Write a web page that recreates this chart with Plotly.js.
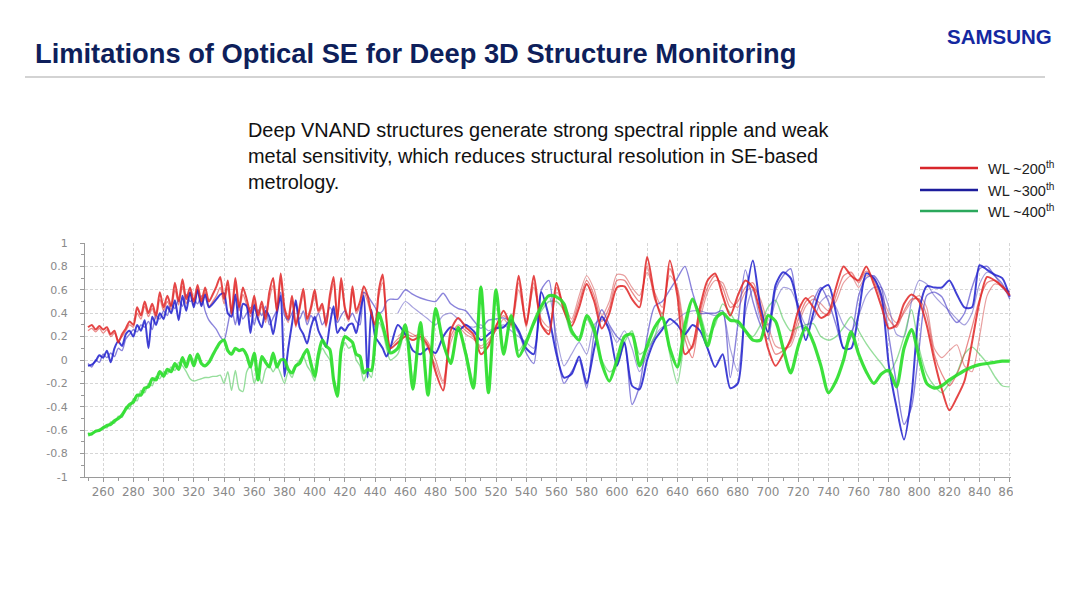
<!DOCTYPE html>
<html>
<head>
<meta charset="utf-8">
<script src="https://cdn.plot.ly/plotly-3.0.1.min.js"></script>
<style>
  html, body { margin: 0; padding: 0; background: #fff; }
  #plot { width: 1080px; height: 608px; }
</style>
</head>
<body>
<div id="plot"></div>
<script>
"use strict";

// Sampling grid: dense where the ripple is fast,
// coarser past 450 nm where the fringes widen.
const wavelengthFine = [
  250, 252.5, 255, 257.5, 260, 262.5, 265, 267.5, 270, 272.5,
  275, 277.5, 280, 282.5, 285, 287.5, 290, 292.5, 295, 297.5,
  300, 302.5, 305, 307.5, 310, 312.5, 315, 317.5, 320, 322.5,
  325, 327.5, 330, 332.5, 335, 337.5, 340, 342.5, 345, 347.5,
  350, 352.5, 355, 357.5, 360, 362.5, 365, 367.5, 370, 372.5,
  375, 377.5, 380, 382.5, 385, 387.5, 390, 392.5, 395, 397.5,
  400, 402.5, 405, 407.5, 410, 412.5, 415, 417.5, 420, 422.5,
  425, 427.5, 430, 432.5, 435, 437.5, 440, 442.5, 445, 447.5,
  450
];
const wavelengthCoarse = [
  455, 460, 465, 470, 475, 480, 485, 490, 495, 500,
  505, 510, 515, 520, 525, 530, 535, 540, 545, 550,
  555, 560, 565, 570, 575, 580, 585, 590, 595, 600,
  605, 610, 615, 620, 625, 630, 635, 640, 645, 650,
  655, 660, 665, 670, 675, 680, 685, 690, 695, 700,
  705, 710, 715, 720, 725, 730, 735, 740, 745, 750,
  755, 760, 765, 770, 775, 780, 785, 790, 795, 800,
  805, 810, 815, 820, 825, 830, 835, 840, 845, 850,
  855, 860
];
const wavelength = wavelengthFine.concat(wavelengthCoarse);

// ── WL ~200th (red) ──
const red1 = [
  0.28, 0.30, 0.26, 0.29, 0.26, 0.28, 0.22, 0.25, 0.15, 0.22,
  0.27, 0.33, 0.30, 0.45, 0.38, 0.50, 0.40, 0.48, 0.38, 0.58,
  0.45, 0.55, 0.46, 0.66, 0.50, 0.69, 0.52, 0.62, 0.50, 0.64,
  0.50, 0.62, 0.50, 0.56, 0.63, 0.71, 0.52, 0.68, 0.40, 0.70,
  0.45, 0.62, 0.52, 0.40, 0.55, 0.38, 0.50, 0.35, 0.58, 0.70,
  0.42, 0.74, 0.45, 0.35, 0.55, 0.30, 0.45, 0.61, 0.35, 0.45,
  0.60, 0.42, 0.48, 0.30, 0.55, 0.71, 0.35, 0.70, 0.45, 0.35,
  0.63, 0.42, 0.50, 0.63, 0.55, 0.40, 0.30, 0.60, 0.73, 0.35,
  0.10,
  0.15, 0.20, 0.17, 0.20, 0.12, -0.10, -0.26, 0.25, 0.36, 0.28,
  0.22, 0.05, 0.12, 0.28, 0.42, 0.30, 0.72, 0.30, 0.72, 0.30,
  0.22, 0.66, 0.42, 0.29, 0.45, 0.65, 0.50, 0.27, 0.40, 0.62,
  0.63, 0.52, 0.45, 0.88, 0.55, 0.36, 0.85, 0.55, 0.05, 0.12,
  0.45, 0.68, 0.74, 0.55, 0.38, 0.55, 0.68, 0.62, 0.40, 0.10,
  -0.05, 0.05, 0.18, 0.42, 0.53, 0.45, 0.36, 0.40, 0.62, 0.80,
  0.72, 0.68, 0.80, 0.65, 0.46, 0.27, 0.30, 0.48, 0.56, 0.50,
  0.30, 0.00, -0.25, -0.43, -0.32, -0.18, 0.15, 0.50, 0.71, 0.68,
  0.63, 0.55
];
const red2 = [
  0.25, 0.27, 0.24, 0.27, 0.23, 0.26, 0.20, 0.23, 0.17, 0.20,
  0.25, 0.30, 0.28, 0.40, 0.35, 0.46, 0.37, 0.44, 0.35, 0.52,
  0.42, 0.50, 0.43, 0.60, 0.47, 0.63, 0.48, 0.58, 0.47, 0.60,
  0.47, 0.58, 0.46, 0.50, 0.55, 0.62, 0.48, 0.62, 0.38, 0.64,
  0.42, 0.56, 0.47, 0.37, 0.50, 0.35, 0.46, 0.32, 0.52, 0.64,
  0.40, 0.68, 0.42, 0.32, 0.50, 0.28, 0.42, 0.56, 0.33, 0.42,
  0.55, 0.40, 0.45, 0.28, 0.50, 0.65, 0.33, 0.64, 0.42, 0.33,
  0.58, 0.40, 0.46, 0.58, 0.50, 0.38, 0.28, 0.55, 0.66, 0.32,
  0.12,
  0.18, 0.22, 0.20, 0.22, 0.15, 0.00, -0.18, 0.20, 0.30, 0.25,
  0.20, 0.10, 0.15, 0.30, 0.38, 0.32, 0.66, 0.28, 0.66, 0.30,
  0.25, 0.62, 0.45, 0.32, 0.50, 0.68, 0.55, 0.33, 0.45, 0.68,
  0.68, 0.58, 0.50, 0.80, 0.52, 0.40, 0.78, 0.60, 0.18, 0.02,
  0.40, 0.62, 0.72, 0.62, 0.45, 0.50, 0.62, 0.66, 0.48, 0.22,
  0.05, 0.08, 0.15, 0.35, 0.50, 0.55, 0.42, 0.38, 0.55, 0.72,
  0.75, 0.66, 0.76, 0.68, 0.52, 0.35, 0.28, 0.42, 0.52, 0.52,
  0.38, 0.05, -0.12, -0.22, -0.12, 0.05, 0.28, 0.52, 0.66, 0.68,
  0.62, 0.58
];
const red3 = [
  0.20, 0.25, 0.22, 0.18, 0.10, -0.05, -0.20, 0.15, 0.28, 0.22,
  0.18, 0.12, 0.18, 0.25, 0.35, 0.28, 0.60, 0.32, 0.62, 0.35,
  0.28, 0.58, 0.48, 0.35, 0.55, 0.72, 0.60, 0.38, 0.50, 0.73,
  0.72, 0.62, 0.55, 0.75, 0.58, 0.45, 0.72, 0.62, 0.25, 0.10,
  0.35, 0.58, 0.68, 0.66, 0.50, 0.45, 0.58, 0.62, 0.52, 0.30,
  0.12, 0.10, 0.12, 0.30, 0.46, 0.52, 0.48, 0.42, 0.50, 0.66,
  0.72, 0.62, 0.72, 0.70, 0.56, 0.40, 0.32, 0.40, 0.50, 0.55,
  0.45, 0.10, 0.02, 0.08, 0.13, -0.05, -0.10, 0.20, 0.55, 0.65,
  0.63, 0.58
];

// ── WL ~300th (blue) ──
const blue1 = [
  -0.05, -0.04, -0.01, 0.04, 0.02, 0.08, -0.02, 0.10, 0.16, 0.12,
  0.22, 0.25, 0.20, 0.30, 0.25, 0.34, 0.10, 0.37, 0.30, 0.40,
  0.35, 0.46, 0.40, 0.51, 0.34, 0.55, 0.42, 0.58, 0.45, 0.60,
  0.46, 0.56, 0.45, 0.48, 0.52, 0.56, 0.57, 0.40, 0.37, 0.56,
  0.30, 0.48, 0.46, 0.23, 0.47, 0.35, 0.28, 0.42, 0.37, 0.22,
  0.40, 0.55, -0.14, 0.10, 0.31, 0.51, 0.28, 0.22, 0.14, 0.28,
  0.37, 0.25, 0.18, 0.11, 0.30, 0.46, 0.23, 0.28, 0.25, 0.30,
  0.31, 0.23, 0.40, 0.55, -0.15, 0.43, 0.20, 0.15, 0.10, 0.03,
  0.10,
  0.30, 0.22, 0.08, 0.05, 0.10, 0.06, 0.20, 0.28, 0.25, 0.30,
  0.25, 0.17, 0.22, 0.27, 0.28, 0.34, 0.25, 0.10, 0.05, 0.58,
  0.37, 0.05, -0.15, -0.12, 0.03, -0.20, 0.10, 0.37, 0.25, -0.05,
  0.15, -0.22, -0.25, 0.00, 0.17, 0.26, 0.35, 0.30, 0.22, 0.30,
  0.25, 0.10, -0.06, 0.05, -0.24, -0.20, 0.50, 0.85, 0.45, 0.24,
  0.64, 0.75, 0.70, 0.45, 0.17, 0.40, 0.60, 0.64, 0.40, 0.10,
  0.10, 0.40, 0.74, 0.70, 0.55, -0.05, -0.40, -0.68, -0.30, 0.42,
  0.63, 0.62, 0.62, 0.68, 0.56, 0.45, 0.45, 0.81, 0.77, 0.73,
  0.70, 0.54
];
const blue2 = [
  -0.03, -0.06, 0.00, -0.02, 0.05, 0.02, 0.06, 0.03, 0.10, 0.08,
  0.18, 0.22, 0.26, 0.24, 0.30, 0.28, 0.33, 0.26, 0.38, 0.35,
  0.42, 0.38, 0.48, 0.44, 0.52, 0.46, 0.56, 0.50, 0.52, 0.48,
  0.55, 0.42, 0.34, 0.30, 0.26, 0.20, 0.17, 0.30, 0.45, 0.30,
  0.48, 0.35, 0.40, 0.45, 0.30, 0.43, 0.38, 0.46, 0.30, 0.36,
  0.43, 0.58, 0.38, 0.34, 0.40, 0.48, 0.35, 0.42, 0.30, 0.38,
  0.34, 0.40, 0.30, 0.36, 0.45, 0.40, 0.32, 0.38, 0.42, 0.35,
  0.40, 0.33, 0.30, 0.58, 0.55, 0.50, 0.45, 0.40, 0.42, 0.50,
  0.52,
  0.52, 0.60, 0.56, 0.53, 0.51, 0.50, 0.57, 0.48, 0.44, 0.42,
  0.34, 0.27, 0.34, 0.35, 0.36, 0.32, 0.23, 0.06, -0.03, 0.60,
  0.68, 0.10, -0.20, -0.10, 0.00, -0.24, 0.23, 0.43, 0.30, 0.20,
  0.14, -0.38, -0.22, 0.20, 0.46, 0.50, 0.60, 0.70, 0.80, 0.58,
  0.40, 0.40, 0.40, 0.42, -0.15, 0.30, 0.77, 0.50, 0.30, 0.18,
  0.60, 0.72, 0.78, 0.40, 0.25, 0.50, 0.62, 0.50, 0.30, 0.10,
  0.20, 0.55, 0.70, 0.72, 0.62, 0.20, -0.20, -0.55, -0.40, 0.10,
  0.55, 0.58, 0.54, 0.40, 0.32, 0.40, 0.62, 0.78, 0.80, 0.72,
  0.65, 0.52
];
const blue3 = [
  0.40, 0.50, 0.45, 0.40, 0.35, 0.30, 0.38, 0.40, 0.35, 0.30,
  0.28, 0.30, 0.25, 0.28, 0.30, 0.25, 0.20, 0.15, 0.10, 0.45,
  0.55, 0.20, -0.05, 0.05, 0.15, 0.05, 0.30, 0.35, 0.28, 0.15,
  0.25, 0.10, -0.10, 0.05, 0.20, 0.28, 0.30, 0.35, 0.40, 0.42,
  0.42, 0.40, 0.38, 0.40, 0.10, -0.10, 0.40, 0.60, 0.35, 0.30,
  0.50, 0.62, 0.60, 0.45, 0.30, 0.35, 0.50, 0.55, 0.45, 0.30,
  0.25, 0.38, 0.55, 0.62, 0.62, 0.45, 0.22, 0.20, 0.50, 0.68,
  0.65, 0.55, 0.48, 0.42, 0.35, 0.30, 0.40, 0.65, 0.75, 0.72,
  0.62, 0.55
];

// ── WL ~400th (green) ──
const green1 = [
  -0.64, -0.63, -0.61, -0.60, -0.58, -0.56, -0.55, -0.52, -0.50, -0.47,
  -0.42, -0.38, -0.36, -0.30, -0.30, -0.24, -0.23, -0.16, -0.17, -0.10,
  -0.14, -0.08, -0.10, -0.03, -0.08, 0.02, -0.06, 0.04, -0.05, 0.05,
  -0.03, -0.05, -0.02, 0.04, 0.10, 0.15, 0.17, 0.08, 0.05, 0.10,
  0.08, 0.09, 0.04, -0.06, 0.06, -0.17, 0.03, -0.02, -0.06, 0.06,
  -0.06, 0.00, 0.00, -0.08, -0.11, -0.05, -0.03, 0.04, 0.09, -0.03,
  -0.14, 0.05, 0.17, 0.12, 0.09, -0.17, -0.31, 0.09, 0.20, 0.18,
  0.15, 0.05, 0.03, -0.11, -0.08, -0.09, 0.17, 0.40, 0.30, 0.17,
  0.06,
  0.10, 0.30, -0.25, 0.32, -0.30, 0.44, 0.15, -0.03, 0.28, 0.05,
  -0.24, 0.62, -0.28, 0.60, 0.05, 0.38, 0.03, 0.15, 0.32, 0.46,
  0.55, 0.54, 0.48, 0.25, 0.17, 0.38, 0.26, -0.03, -0.18, 0.00,
  0.20, 0.22, -0.05, 0.12, 0.28, 0.36, 0.10, -0.06, 0.30, 0.52,
  0.35, 0.12, 0.35, 0.40, 0.34, 0.33, 0.25, 0.17, 0.17, 0.38,
  0.33, 0.10, -0.11, 0.12, 0.28, 0.15, -0.05, -0.28, -0.18, 0.00,
  0.24, 0.05, -0.10, -0.20, -0.12, -0.09, -0.23, 0.10, 0.26, 0.02,
  -0.20, -0.24, -0.22, -0.17, -0.13, -0.09, -0.06, -0.04, -0.03, -0.02,
  -0.01, -0.01
];
const green2 = [
  -0.62, -0.64, -0.60, -0.61, -0.57, -0.58, -0.53, -0.54, -0.48, -0.49,
  -0.40, -0.42, -0.33, -0.35, -0.26, -0.28, -0.20, -0.22, -0.14, -0.16,
  -0.10, -0.12, -0.06, -0.09, -0.02, -0.05, -0.10, -0.16, -0.18, -0.17,
  -0.16, -0.15, -0.15, -0.14, -0.14, -0.13, -0.20, -0.10, -0.26, -0.09,
  -0.25, -0.27, -0.10, -0.05, -0.20, -0.12, -0.20, -0.08, -0.05, -0.10,
  -0.05, -0.12, -0.20, -0.10, -0.15, -0.05, 0.00, 0.03, -0.05, -0.10,
  -0.18, 0.00, 0.10, 0.05, 0.00, -0.15, -0.25, 0.05, 0.15, 0.10,
  0.12, 0.00, -0.05, -0.18, -0.10, -0.15, 0.10, 0.32, 0.25, 0.10,
  0.00,
  0.05, 0.25, -0.15, 0.28, -0.25, 0.40, 0.12, 0.00, 0.25, 0.08,
  -0.18, 0.64, -0.22, 0.55, 0.10, 0.35, 0.08, 0.18, 0.30, 0.42,
  0.50, 0.50, 0.42, 0.22, 0.20, 0.35, 0.22, 0.00, -0.10, -0.05,
  0.15, 0.25, 0.05, 0.10, 0.20, 0.40, 0.05, -0.20, 0.20, 0.50,
  0.40, 0.20, 0.30, 0.48, 0.40, 0.30, 0.25, 0.20, 0.30, 0.45,
  0.51, 0.35, 0.25, 0.28, 0.30, 0.31, 0.20, 0.17, 0.20, 0.28,
  0.37, 0.25, 0.14, 0.05, -0.03, -0.11, 0.00, 0.20, 0.43, 0.10,
  -0.12, -0.22, -0.28, -0.20, -0.11, 0.05, 0.11, 0.05, -0.03, -0.14,
  -0.22, -0.23
];

const xTicks = [260, 280, 300, 320, 340, 360, 380, 400, 420, 440, 460, 480,
  500, 520, 540, 560, 580, 600, 620, 640, 660, 680, 700, 720, 740, 760,
  780, 800, 820, 840, 860];
const yTicks = [-1, -0.8, -0.6, -0.4, -0.2, 0, 0.2, 0.4, 0.6, 0.8, 1];
const yTickText = ["-1", "-0.8", "-0.6", "-0.4", "-0.2", "0", "0.2", "0.4", "0.6", "0.8", "1"];

const legendItems = [
  { label: "WL ~200<sup>th</sup>", color: "#d8262b" },
  { label: "WL ~300<sup>th</sup>", color: "#1c1c9c" },
  { label: "WL ~400<sup>th</sup>", color: "#2ba85c" },
];

// page pixels -> paper fractions (margins are zero, so paper == page)
const W = 1080, H = 608;
const px = x => x / W;
const py = y => 1 - y / H;

function line(x, y, color, width, name) {
  return {
    type: "scatter", mode: "lines", x: x, y: y, name: name,
    line: { color: color, width: width, shape: "spline", smoothing: 0.7 },
    hoverinfo: "skip", showlegend: false,
  };
}

// thin companions first so the strong curves sit on top
const traces = [
  line(wavelengthCoarse, red3, "rgba(214,80,80,0.55)", 1.2, "WL ~200th c"),
  line(wavelengthCoarse, blue3, "rgba(95,85,195,0.55)", 1.2, "WL ~300th c"),
  line(wavelength, green2, "rgba(80,200,90,0.6)", 1.4, "WL ~400th b"),
  line(wavelength, red2, "rgba(220,60,60,0.6)", 1.3, "WL ~200th b"),
  line(wavelength, blue2, "rgba(75,65,200,0.65)", 1.4, "WL ~300th b"),
  line(wavelength, blue1, "rgba(30,30,205,0.85)", 2, "WL ~300th"),
  line(wavelength, red1, "rgba(224,38,38,0.85)", 2, "WL ~200th"),
  line(wavelength, green1, "rgba(40,222,40,0.9)", 3.2, "WL ~400th"),
];

const shapes = [
  // rule under the slide title
  { type: "line", xref: "paper", yref: "paper",
    x0: px(25), x1: px(1045), y0: py(77), y1: py(77),
    line: { color: "#c4c4c4", width: 1.5 } },
  // the chart picture is cropped at its right edge
  { type: "rect", xref: "paper", yref: "paper", layer: "above",
    x0: px(1013), x1: 1, y0: py(505), y1: py(478),
    fillcolor: "#ffffff", line: { width: 0 } },
];
const annotations = [
  { xref: "paper", yref: "paper", x: px(33), y: py(54), xanchor: "left", yanchor: "middle",
    text: "<b>Limitations of Optical SE for Deep 3D Structure Monitoring</b>",
    showarrow: false,
    font: { family: "Liberation Sans, Arial", size: 27.3, color: "#0e1f5b" } },
  { xref: "paper", yref: "paper", x: px(999), y: py(37), xanchor: "center", yanchor: "middle",
    text: "<b>SAMSUNG</b>", showarrow: false,
    font: { family: "Liberation Sans, Arial", size: 20.5, color: "#1428a0" } },
  { xref: "paper", yref: "paper", x: px(246), y: py(117), xanchor: "left", yanchor: "top",
    align: "left", showarrow: false,
    text: "Deep VNAND structures generate strong spectral ripple and weak<br>" +
          "metal sensitivity, which reduces structural resolution in SE-based<br>" +
          "metrology.",
    font: { family: "Liberation Sans, Arial", size: 19.9, color: "#111111" } },
];
const legendY = [168, 190, 211];
legendItems.forEach((item, i) => {
  shapes.push({ type: "line", xref: "paper", yref: "paper",
    x0: px(920), x1: px(978), y0: py(legendY[i]), y1: py(legendY[i]),
    line: { color: item.color, width: 2.5 } });
  annotations.push({ xref: "paper", yref: "paper", x: px(986), y: py(legendY[i]),
    xanchor: "left", yanchor: "middle", showarrow: false, text: item.label,
    font: { family: "Liberation Sans, Arial", size: 14.5, color: "#222222" } });
});

const layout = {
  width: W, height: H,
  margin: { l: 0, r: 0, t: 0, b: 0 },
  paper_bgcolor: "#ffffff", plot_bgcolor: "#ffffff",
  showlegend: false,
  xaxis: {
    domain: [px(85), px(1011)], range: [248, 860.8],
    tickvals: xTicks, ticks: "outside", ticklen: 4, tickcolor: "#9a9a9a",
    minor: { dtick: 10, ticks: "outside", ticklen: 3, tickcolor: "#9a9a9a", showgrid: false },
    showgrid: true, gridcolor: "#d6d6d6", griddash: "3px,2px", gridwidth: 1,
    showline: true, linecolor: "#9a9a9a", zeroline: false,
    tickfont: { family: "DejaVu Sans", size: 12, color: "#8a8a8a" },
    fixedrange: true,
  },
  yaxis: {
    domain: [py(477), py(243)], range: [-1, 1],
    tickvals: yTicks, ticktext: yTickText,
    ticks: "outside", ticklen: 4, tickcolor: "#9a9a9a", ticklabelstandoff: 10,
    minor: { dtick: 0.1, ticks: "outside", ticklen: 3, tickcolor: "#9a9a9a", showgrid: false },
    showgrid: true, gridcolor: "#d6d6d6", griddash: "3px,2px", gridwidth: 1,
    showline: true, linecolor: "#9a9a9a", zeroline: false,
    tickfont: { family: "DejaVu Sans", size: 11, color: "#8a8a8a" },
    fixedrange: true,
  },
  shapes: shapes,
  annotations: annotations,
};

Plotly.newPlot("plot", traces, layout, { displayModeBar: false, staticPlot: true });
</script>
</body>
</html>
